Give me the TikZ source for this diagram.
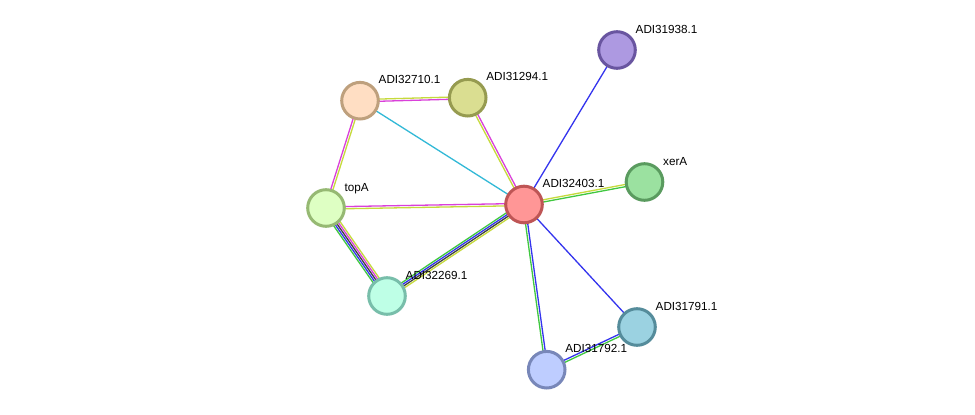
\documentclass[tikz,border=0pt]{standalone}
\usepackage{fontspec}
\setmainfont{Liberation Sans}
\usetikzlibrary{calc}
\pgfdeclarelayer{background}
\pgfsetlayers{background,main}
\definecolor{cyel}{RGB}{198,218,60}
\definecolor{cmag}{RGB}{218,64,218}
\definecolor{cblu}{RGB}{52,52,238}
\definecolor{cgrn}{RGB}{64,200,64}
\definecolor{cgry}{RGB}{64,64,64}
\definecolor{ccya}{RGB}{50,185,215}
\tikzset{
  prot/.style={circle, minimum size=36.6pt, inner sep=0pt, line width=3pt},
  plabel/.style={anchor=base west, inner sep=0pt, font=\fontsize{11.7}{13}\selectfont},
  edge/.style={line width=1.3pt},
}
\newcommand\edgeline[4]{\draw[edge,#4] ($(#1)!#3pt!90:(#2)$) -- ($(#2)!#3pt!-90:(#1)$);}
\begin{document}
\begin{tikzpicture}[x=1pt,y=-1pt]
\useasboundingbox (0,0) rectangle (975,415);
\node[prot, fill={rgb,255:red,255;green,150;blue,150}, draw={rgb,255:red,190;green,85;blue,85}] (a32403) at (524,204.5) {};
\node[prot, fill={rgb,255:red,173;green,153;blue,225}, draw={rgb,255:red,105;green,85;blue,160}] (a31938) at (617,50) {};
\node[prot, fill={rgb,255:red,155;green,225;blue,160}, draw={rgb,255:red,90;green,155;blue,95}] (xerA) at (644.5,182) {};
\node[prot, fill={rgb,255:red,255;green,222;blue,195}, draw={rgb,255:red,190;green,160;blue,125}] (a32710) at (360,100.7) {};
\node[prot, fill={rgb,255:red,218;green,222;blue,145}, draw={rgb,255:red,150;green,155;blue,80}] (a31294) at (467.7,97.7) {};
\node[prot, fill={rgb,255:red,222;green,255;blue,195}, draw={rgb,255:red,150;green,185;blue,115}] (topA) at (326,208) {};
\node[prot, fill={rgb,255:red,190;green,255;blue,230}, draw={rgb,255:red,120;green,190;blue,170}] (a32269) at (387,296) {};
\node[prot, fill={rgb,255:red,155;green,210;blue,225}, draw={rgb,255:red,85;green,140;blue,155}] (a31791) at (637,327) {};
\node[prot, fill={rgb,255:red,190;green,205;blue,255}, draw={rgb,255:red,120;green,135;blue,185}] (a31792) at (546.7,369.7) {};

\foreach \n/\t in {a32403/ADI32403.1, a31938/ADI31938.1, xerA/xerA, a32710/ADI32710.1, a31294/ADI31294.1, topA/topA, a32269/ADI32269.1, a31791/ADI31791.1, a31792/ADI31792.1}
  \node[plabel] (l\n) at ($(\n)+(18.5,-17)$) {\t};

\begin{pgfonlayer}{background}
\fill[white] (0,0) rectangle (975,415);
\edgeline{a32710}{a31294}{1.1}{cyel}
\edgeline{a32710}{a31294}{-1.1}{cmag}
\edgeline{a32710}{topA}{1.1}{cyel}
\edgeline{a32710}{topA}{-1.1}{cmag}
\edgeline{a32710}{a32403}{0}{ccya}
\edgeline{a31294}{a32403}{1.1}{cmag}
\edgeline{a31294}{a32403}{-1.1}{cyel}
\edgeline{topA}{a32403}{1.1}{cmag}
\edgeline{topA}{a32403}{-1.1}{cyel}
\edgeline{topA}{a32269}{3.8}{cyel}
\edgeline{topA}{a32269}{1.9}{cmag}
\edgeline{topA}{a32269}{0}{cgry}
\edgeline{topA}{a32269}{-1.9}{cblu}
\edgeline{topA}{a32269}{-3.8}{cgrn}
\edgeline{a32269}{a32403}{2.85}{cgrn}
\edgeline{a32269}{a32403}{0.95}{cblu}
\edgeline{a32269}{a32403}{-0.95}{cgry}
\edgeline{a32269}{a32403}{-2.85}{cyel}
\edgeline{a32403}{a31938}{0}{cblu}
\edgeline{a32403}{xerA}{1.1}{cyel}
\edgeline{a32403}{xerA}{-1.1}{cgrn}
\edgeline{a32403}{a31791}{0}{cblu}
\edgeline{a32403}{a31792}{1.1}{cblu}
\edgeline{a32403}{a31792}{-1.1}{cgrn}
\edgeline{a31792}{a31791}{1.1}{cblu}
\edgeline{a31792}{a31791}{-1.1}{cgrn}
\end{pgfonlayer}
\end{tikzpicture}
\end{document}
